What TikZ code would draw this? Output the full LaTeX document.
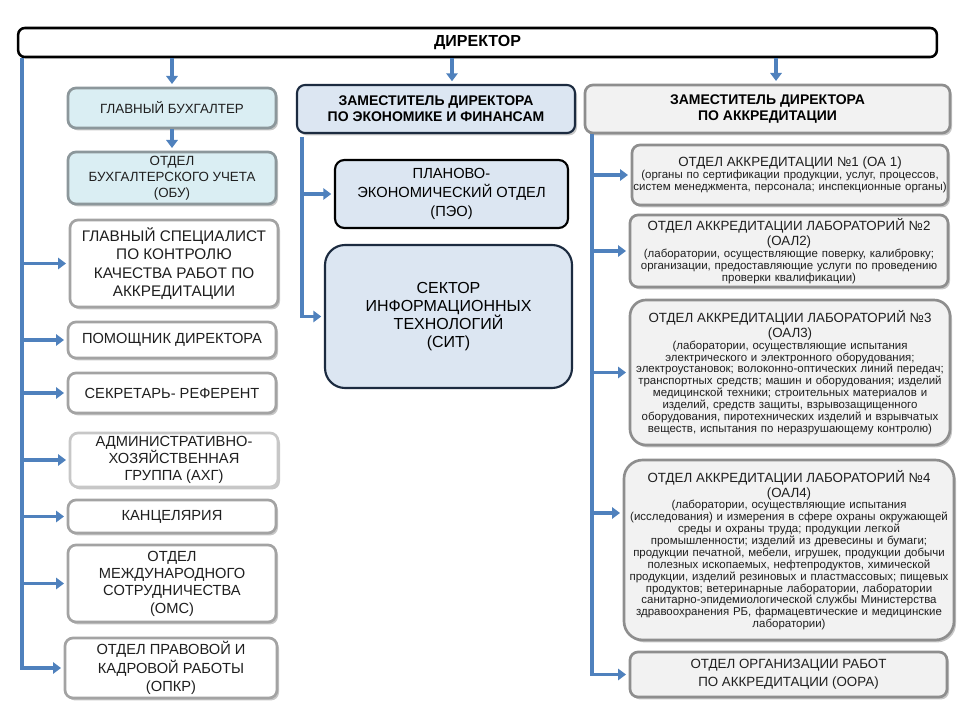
\documentclass[tikz,border=0pt]{standalone}
\usepackage{fontspec}
\setmainfont{Liberation Sans}
\usetikzlibrary{arrows.meta,shadows}
\setlength{\parindent}{0pt}

\definecolor{busblue}{HTML}{4F81BD}
\definecolor{bukhfill}{HTML}{DAEEF3}
\definecolor{bukhline}{HTML}{8C979B}
\definecolor{econfill}{HTML}{DCE6F2}
\definecolor{econline}{HTML}{1C2B40}
\definecolor{accfill}{HTML}{F2F2F2}
\definecolor{unitline}{HTML}{A3A3A3}
\definecolor{accline}{HTML}{8E8E8E}
\newcommand{\deptfont}{\fontsize{10}{11.25}\selectfont}

\tikzset{
  unit/.style={draw=unitline, line width=2pt, rounded corners=6pt, fill=white,
    align=center, inner sep=1pt, text=black!88, font=\fontsize{11}{13.5}\selectfont,
    drop shadow={shadow xshift=1.5pt, shadow yshift=-1.8pt, fill=black!55, opacity=.4}},
  leftunit/.style={unit, minimum width=156pt},
  deputy/.style={unit, font=\bfseries\fontsize{10.5}{12}\selectfont, text=black},
  accunit/.style={unit, draw=accline, fill=accfill, font=\fontsize{8.6}{8.9}\selectfont},
  bus/.style={draw=busblue, line width=2.4pt},
  feed/.style={bus, -{Triangle[length=6pt,width=8.5pt]}, shorten >=2pt},
}

\begin{document}
\begin{tikzpicture}[x=0.75pt, y=-0.75pt]
  \useasboundingbox (0,0) rectangle (960,720);

  % head of the chart
  \node[draw=black, line width=1.9pt, rounded corners=5pt, fill=white,
        minimum width=689pt, minimum height=21.75pt,
        font=\bfseries\fontsize{12}{14}\selectfont] (dir) at (477.5,42.5) {ДИРЕКТОР};

  % left column, directly under the director
  \node[leftunit, fill=bukhfill, draw=bukhline, minimum height=30pt,
        font=\fontsize{10}{12}\selectfont] (bukh) at (172,108) {ГЛАВНЫЙ БУХГАЛТЕР};
  \node[leftunit, fill=bukhfill, draw=bukhline, minimum height=39pt,
        font=\fontsize{10}{12}\selectfont] (obu) at (172,178)
        {ОТДЕЛ\\ БУХГАЛТЕРСКОГО УЧЕТА\\ (ОБУ)};
  \node[leftunit, minimum height=65.25pt, font=\fontsize{11.5}{13.7}\selectfont]
        (spec) at (174,263.5)
        {ГЛАВНЫЙ СПЕЦИАЛИСТ\\ ПО КОНТРОЛЮ\\ КАЧЕСТВА РАБОТ ПО\\ АККРЕДИТАЦИИ};
  \node[leftunit, minimum height=27pt] (pom) at (172,340) {ПОМОЩНИК ДИРЕКТОРА};
  \node[leftunit, minimum height=30pt] (sekr) at (172,393) {СЕКРЕТАРЬ- РЕФЕРЕНТ};
  \node[leftunit, draw=black!22, minimum height=40.5pt, font=\fontsize{11}{12.5}\selectfont]
        (akhg) at (174,460) {АДМИНИСТРАТИВНО-\\ ХОЗЯЙСТВЕННАЯ\\ ГРУППА (АХГ)};
  \node[leftunit, minimum height=24.75pt] (kanc) at (172,516.5) {КАНЦЕЛЯРИЯ};
  \node[leftunit, minimum height=57.75pt, font=\fontsize{11}{13}\selectfont]
        (oms) at (172,583.5)
        {ОТДЕЛ\\ МЕЖДУНАРОДНОГО\\ СОТРУДНИЧЕСТВА\\ (ОМС)};
  \node[leftunit, minimum width=159pt, minimum height=45pt, font=\fontsize{11}{13.7}\selectfont]
        (opkr) at (171,668) {ОТДЕЛ ПРАВОВОЙ И\\ КАДРОВОЙ РАБОТЫ\\ (ОПКР)};

  % economics branch
  \node[deputy, fill=econfill, draw=econline, line width=1.6pt,
        minimum width=208.5pt, minimum height=36pt] (zamecon) at (436,109)
        {ЗАМЕСТИТЕЛЬ ДИРЕКТОРА\\ ПО ЭКОНОМИКЕ И ФИНАНСАМ};
  \node[draw=black, line width=1.6pt, rounded corners=7pt, fill=econfill, align=center,
        minimum width=174.75pt, minimum height=51pt, font=\fontsize{11}{14}\selectfont]
        (peo) at (451.5,194) {ПЛАНОВО-\\ ЭКОНОМИЧЕСКИЙ ОТДЕЛ\\ (ПЭО)};
  \node[draw=econline, line width=1.6pt, rounded corners=15pt, fill=econfill, align=center,
        minimum width=185.25pt, minimum height=107.25pt, font=\fontsize{12}{13.5}\selectfont]
        (sit) at (448.5,316.5) {СЕКТОР\\ ИНФОРМАЦИОННЫХ\\ ТЕХНОЛОГИЙ\\ (СИТ)};

  % accreditation branch
  \node[deputy, fill=accfill, draw=accline, minimum width=273.75pt, minimum height=36pt]
        (zamacc) at (767.5,109) {ЗАМЕСТИТЕЛЬ ДИРЕКТОРА\\ ПО АККРЕДИТАЦИИ};
  \node[accunit, text width=235pt, minimum height=45pt] (oa1) at (790,175)
        {{\deptfont ОТДЕЛ АККРЕДИТАЦИИ №1 (ОА 1)\par}
        (органы по сертификации продукции, услуг, процессов,\\
        систем менеджмента, персонала; инспекционные органы)};
  \node[accunit, text width=236.5pt, minimum height=54pt] (oal2) at (789,251)
        {{\deptfont ОТДЕЛ АККРЕДИТАЦИИ ЛАБОРАТОРИЙ №2\\ (ОАЛ2)\par}
        (лаборатории, осуществляющие поверку, калибровку;\\
        организации, предоставляющие услуги по проведению\\
        проверки квалификации)};
  \node[accunit, rounded corners=12pt, text width=238pt, minimum height=108.75pt]
        (oal3) at (790,372.5)
        {{\deptfont ОТДЕЛ АККРЕДИТАЦИИ ЛАБОРАТОРИЙ №3\\ (ОАЛ3)\par}
        (лаборатории, осуществляющие испытания\\
        электрического и электронного оборудования;\\
        электроустановок; волоконно-оптических линий передач;\\
        транспортных средств; машин и оборудования; изделий\\
        медицинской техники; строительных материалов и\\
        изделий, средств защиты, взрывозащищенного\\
        оборудования, пиротехнических изделий и взрывчатых\\
        веществ, испытания по неразрушающему контролю)};
  \node[accunit, rounded corners=14pt, text width=245.5pt, minimum height=135pt]
        (oal4) at (789,550)
        {{\deptfont ОТДЕЛ АККРЕДИТАЦИИ ЛАБОРАТОРИЙ №4\\ (ОАЛ4)\par}
        (лаборатории, осуществляющие испытания\\
        (исследования) и измерения в сфере охраны окружающей\\
        среды и охраны труда; продукции легкой\\
        промышленности; изделий из древесины и бумаги;\\
        продукции печатной, мебели, игрушек, продукции добычи\\
        полезных ископаемых, нефтепродуктов, химической\\
        продукции, изделий резиновых и пластмассовых; пищевых\\
        продуктов; ветеринарные лаборатории, лаборатории\\
        санитарно-эпидемиологической службы Министерства\\
        здравоохранения РБ, фармацевтические и медицинские\\
        лаборатории)};
  \node[accunit, minimum width=237.75pt, minimum height=33.75pt,
        font=\fontsize{10}{13.5}\selectfont] (oora) at (788.5,674.5)
        {ОТДЕЛ ОРГАНИЗАЦИИ РАБОТ\\ ПО АККРЕДИТАЦИИ (ООРА)};

  % bus lines and feeds
  \coordinate (lbus) at (dir.south -| 22,0);
  \coordinate (mbus) at (302,137);
  \coordinate (rbus) at (zamacc.south -| 592,0);
  \coordinate (econin) at ([xshift=12pt]zamecon.north);
  \coordinate (accin) at ([xshift=6.4pt]zamacc.north);
  \coordinate (oal4in) at ([yshift=27.75pt]oal4.west);

  \draw[feed] (dir.south -| bukh.north) -- (bukh.north);
  \draw[feed] (bukh.south) -- (obu.north);
  \draw[feed] (dir.south -| econin) -- (econin);
  \draw[feed] (dir.south -| accin) -- (accin);

  \draw[feed] (lbus) |- (opkr.west);
  \foreach \u in {spec,pom,sekr,akhg,kanc,oms}
    \draw[feed] (lbus |- \u.west) -- (\u.west);

  \draw[feed] (mbus) |- (sit.west);
  \draw[feed] (mbus |- peo.west) -- (peo.west);

  \draw[feed] (rbus) |- (oora.west);
  \foreach \u in {oa1,oal2,oal3}
    \draw[feed] (rbus |- \u.west) -- (\u.west);
  \draw[feed] (rbus |- oal4in) -- (oal4in);
\end{tikzpicture}
\end{document}
